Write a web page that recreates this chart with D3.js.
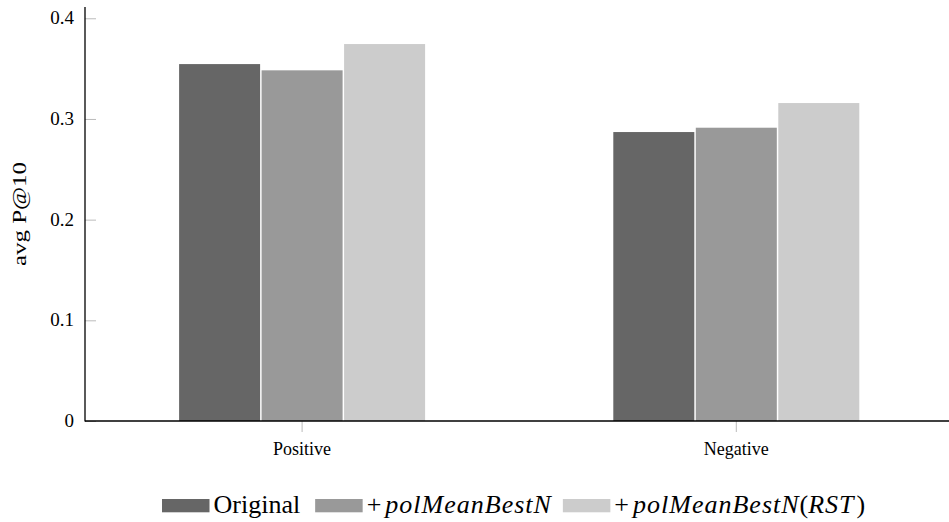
<!DOCTYPE html>
<html>
<head>
<meta charset="utf-8">
<script src="https://cdn.jsdelivr.net/npm/d3@7"></script>
<style>
  body { margin: 0; background: #fff; }
  text { font-family: "Liberation Serif", "Times New Roman", serif; fill: #000; }
</style>
</head>
<body>
<div id="chart"></div>
<script>
// data
var categories = ["Positive", "Negative"];
var seriesNames = ["Original", "+polMeanBestN", "+polMeanBestN(RST)"];
var original = [0.3545, 0.287];
var polMean = [0.3483, 0.2913];
var polMeanRST = [0.3744, 0.3158];
var yTicks = [0, 0.1, 0.2, 0.3, 0.4];
var colors = ["#666666", "#999999", "#cccccc"];

var width = 949, height = 522;
var plotLeft = 85, plotRight = 953.4, plotTop = 7, plotBottom = 421;

var svg = d3.select("#chart").append("svg")
  .attr("width", width)
  .attr("height", height);

var x = d3.scaleBand().domain(categories).range([plotLeft, plotRight]).padding(0);
var xs = d3.scaleBand().domain(d3.range(3)).range([-123, 123]).paddingInner(0.018);
var y = d3.scaleLinear().domain([0, 0.4112]).range([plotBottom, plotTop]);

var seriesValues = [original, polMean, polMeanRST];

// bars
categories.forEach(function(cat, ci) {
  var cx = x(cat) + x.bandwidth() / 2;
  seriesValues.forEach(function(vals, si) {
    svg.append("rect")
      .attr("x", cx + xs(si))
      .attr("y", y(vals[ci]))
      .attr("width", xs.bandwidth())
      .attr("height", y(0) - y(vals[ci]))
      .style("fill", colors[si]);
  });
});

// y axis ticks (inward, gray)
var yAxis = d3.axisRight(y).tickValues(yTicks).tickSize(11).tickFormat("");
var gy = svg.append("g").attr("transform", "translate(" + plotLeft + ",0)").call(yAxis);
gy.select(".domain").remove();
gy.selectAll(".tick line").attr("stroke", "#bbbbbb");

svg.selectAll(".ylab")
  .data(yTicks)
  .enter().append("text")
  .attr("class", "ylab")
  .attr("x", 74)
  .attr("y", function(d) { return y(d) + 6; })
  .attr("text-anchor", "end")
  .style("font-size", "19px")
  .text(function(d) { return d === 0 ? "0" : d3.format(".1f")(d); });

// x axis ticks
var xAxis = d3.axisBottom(x).tickSize(11).tickFormat("");
var gx = svg.append("g").attr("transform", "translate(0," + plotBottom + ")").call(xAxis);
gx.select(".domain").remove();
gx.selectAll(".tick line").attr("stroke", "#bbbbbb");

svg.selectAll(".xlab")
  .data(categories)
  .enter().append("text")
  .attr("class", "xlab")
  .attr("x", function(d) { return x(d) + x.bandwidth() / 2; })
  .attr("y", 455)
  .attr("text-anchor", "middle")
  .style("font-size", "18px")
  .text(function(d) { return d; });

// axis lines
svg.append("line")
  .attr("x1", plotLeft).attr("x2", plotLeft)
  .attr("y1", plotTop).attr("y2", plotBottom + 0.6)
  .attr("stroke", "#000").attr("stroke-width", 1.3);
svg.append("line")
  .attr("x1", plotLeft).attr("x2", width)
  .attr("y1", plotBottom).attr("y2", plotBottom)
  .attr("stroke", "#000").attr("stroke-width", 1.3);

// y label
svg.append("text")
  .attr("transform", "translate(26," + ((plotTop + plotBottom) / 2) + ") rotate(-90) scale(1,0.78)")
  .attr("text-anchor", "middle")
  .style("font-size", "25px")
  .text("avg P@10");

// legend
var legend = svg.append("g");
var lx = 162;
seriesNames.forEach(function(name, i) {
  legend.append("rect")
    .attr("x", lx).attr("y", 499)
    .attr("width", 47.5).attr("height", 13.3)
    .style("fill", colors[i]);
  lx += 47.5 + 4;
  var t = legend.append("text")
    .attr("x", lx).attr("y", 513)
    .style("font-size", "26px");
  if (i === 0) {
    t.text(name);
  } else {
    t.append("tspan").text("+");
    t.append("tspan").attr("dx", 4).style("font-style", "italic")
      .style("letter-spacing", "1px").text("polMeanBestN");
    if (i === 2) {
      t.append("tspan").text("(");
      t.append("tspan").style("font-style", "italic")
        .style("letter-spacing", "1px").text("RST");
      t.append("tspan").attr("dx", 2).text(")");
    }
  }
  lx += t.node().getComputedTextLength() + 15;
});
</script>
</body>
</html>
